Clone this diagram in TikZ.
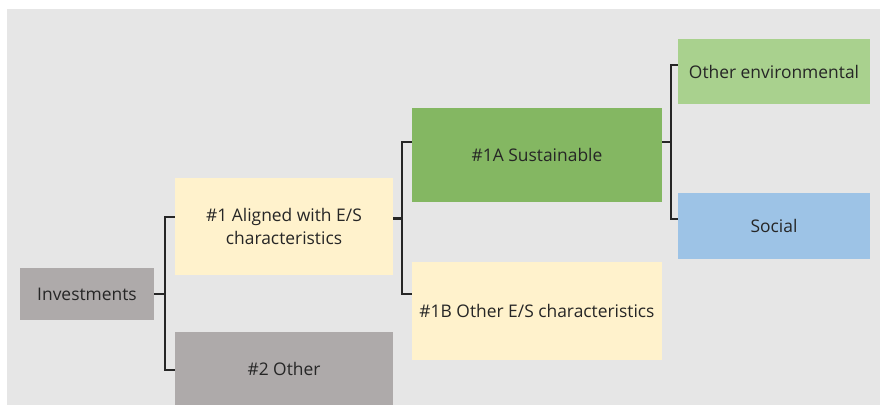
\documentclass[tikz,border=0pt]{standalone}
\usepackage{fontspec}
\setmainfont{Open Sans}
\definecolor{bg}{HTML}{E6E6E6}
\definecolor{grayb}{HTML}{AEAAAA}
\definecolor{yellowb}{HTML}{FFF2CC}
\definecolor{greenb}{HTML}{84B762}
\definecolor{lgreenb}{HTML}{A9D18E}
\definecolor{blueb}{HTML}{9DC3E6}
\definecolor{txt}{HTML}{262626}
\definecolor{ln}{HTML}{262626}
\begin{document}
\begin{tikzpicture}[x=1pt,y=-1pt,
  box/.style={rectangle,inner sep=0pt,anchor=center,align=center,text=txt,
    font=\fontsize{17.4}{23}\selectfont},
  conn/.style={draw=ln,line width=1.6pt}]
\useasboundingbox (0,0) rectangle (880,405);
\fill[white] (0,0) rectangle (880,405);
\fill[bg] (7,9) rectangle (880,405);
\node[box,fill=grayb,minimum width=134pt,minimum height=52pt] (inv) at (87,294) {Investments};
\node[box,fill=yellowb,minimum width=218pt,minimum height=97pt] (n1) at (284,226.5) {\#1 Aligned with E/S\\characteristics};
\node[box,fill=grayb,minimum width=218pt,minimum height=73pt] (n2) at (284,368.5) {\#2 Other};
\node[box,fill=greenb,minimum width=250pt,minimum height=94pt] (a) at (537,155) {\#1A Sustainable};
\node[box,fill=yellowb,minimum width=250pt,minimum height=98pt] (b) at (537,311) {\#1B Other E/S characteristics};
\node[box,fill=lgreenb,minimum width=192pt,minimum height=65pt] (oe) at (774,71.5) {Other environmental};
\node[box,fill=blueb,minimum width=192pt,minimum height=66pt] (soc) at (774,226) {Social};
\coordinate (j1) at (165,294);
\coordinate (j2) at (402,218);
\coordinate (j3) at (671,142);
\draw[conn] (inv.east) -- (j1);
\draw[conn] ([yshift=9.5pt]n1.west) -| (j1) |- ([yshift=-1.5pt]n2.west);
\draw[draw=ln,line width=3pt] ([yshift=8.5pt]n1.east) -- (j2);
\draw[conn] ([yshift=13pt]a.west) -| (j2) |- ([yshift=17pt]b.west);
\draw[conn] ([yshift=13pt]a.east) -- (j3);
\draw[conn] ([yshift=6.5pt]oe.west) -| (j3) |- ([yshift=7pt]soc.west);
\end{tikzpicture}
\end{document}
